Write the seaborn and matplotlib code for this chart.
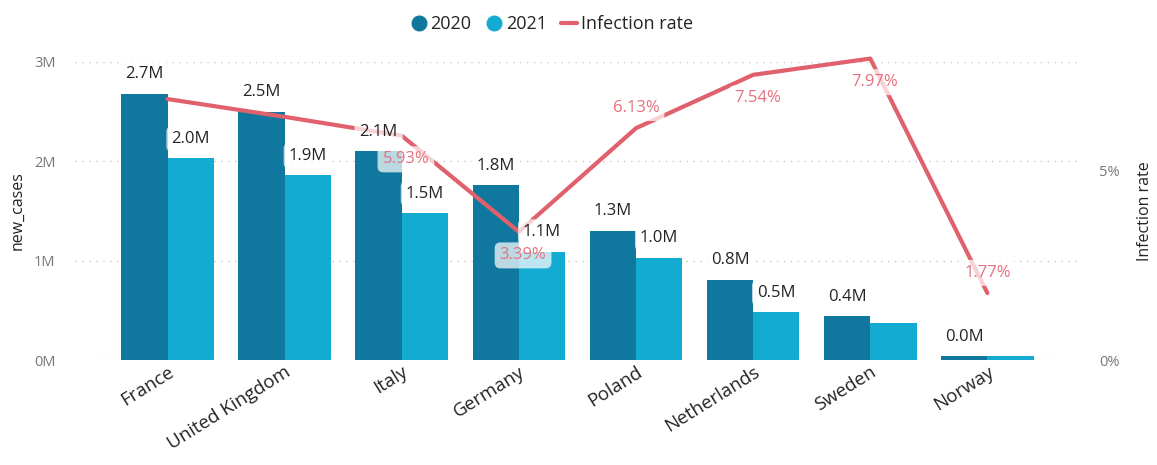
import numpy as np
import pandas as pd
import matplotlib
matplotlib.use("Agg")
import matplotlib.pyplot as plt
import seaborn as sns
from matplotlib.lines import Line2D

countries = ["France", "United Kingdom", "Italy", "Germany", "Poland",
             "Netherlands", "Sweden", "Norway"]
cases_2020 = [2.68, 2.50, 2.10, 1.76, 1.30, 0.81, 0.44, 0.04]   # millions
cases_2021 = [2.03, 1.86, 1.48, 1.09, 1.03, 0.48, 0.37, 0.04]   # millions
infection_rate = [6.90, 6.43, 5.93, 3.39, 6.13, 7.54, 7.97, 1.77]  # percent
show_2021_label = [True, True, True, True, True, True, False, False]
show_rate_label = [False, False, True, True, True, True, True, True]
rate_label_above = [True, True, False, False, True, False, False, True]
years = ["2020", "2021"]

C2020 = "#10789e"
C2021 = "#13abd2"
CLINE = "#e0606c"
CRATE_TXT = "#e8707c"
TXT = "#252423"
GRAY = "#777777"

sns.set_theme(style="white")
plt.rcParams["font.family"] = ["Open Sans", "DejaVu Sans"]

df = pd.DataFrame({
    "country": countries * 2,
    "year": [years[0]] * len(countries) + [years[1]] * len(countries),
    "new_cases": cases_2020 + cases_2021,
})

fig = plt.figure(figsize=(11.57, 4.65), dpi=100)
ax = fig.add_axes([0.0648, 0.2258, 0.8686, 0.6409])
sns.barplot(data=df, x="country", y="new_cases", hue="year",
            palette=[C2020, C2021], width=0.79, ax=ax, legend=False,
            saturation=1, edgecolor="none")
ax.set_xlim(-0.79, len(countries) - 0.21)
ax.set_ylim(0, 3)
ax.set_yticks([0, 1, 2, 3])
ax.set_yticklabels(["0M", "1M", "2M", "3M"], color=GRAY, fontsize=10.5)
ax.set_ylabel("new_cases", color=TXT, fontsize=11.5, labelpad=6)
ax.set_xlabel("")
ax.tick_params(axis="y", length=0, pad=14)
ax.tick_params(axis="x", length=0, pad=2)
ax.set_xticks(range(len(countries)))
ax.set_xticklabels(countries, rotation=32, ha="right", rotation_mode="anchor",
                   fontsize=13.5, color=TXT)
for lbl in ax.get_xticklabels():
    lbl.set_x(lbl.get_position()[0])
ax.grid(axis="y", color="#c8c8c8", linestyle=(0, (1, 4)), linewidth=1)
for s in ax.spines.values():
    s.set_visible(False)

ax2 = ax.twinx()
sns.lineplot(x=np.arange(len(countries)), y=infection_rate, ax=ax2,
             color=CLINE, linewidth=3, clip_on=False)
ax2.set_ylim(0, 7.88)
ax2.set_yticks([0, 5])
ax2.set_yticklabels(["0%", "5%"], color=GRAY, fontsize=10.5)
ax2.tick_params(axis="y", length=0, pad=14)
ax2.set_ylabel("Infection rate", color=TXT, fontsize=11.5, labelpad=12)
for s in ax2.spines.values():
    s.set_visible(False)
ax2.grid(False)

box = dict(boxstyle="round,pad=0.3,rounding_size=0.35", fc="white",
           ec="none", alpha=0.72)
bw = 0.79 / 2
for i in range(len(countries)):
    ax2.annotate(f"{cases_2020[i]:.1f}M", xy=(i - bw / 2, cases_2020[i]),
                 xycoords=ax.transData, xytext=(0, 14),
                 textcoords="offset points", ha="center", va="center",
                 fontsize=12, color=TXT, bbox=box, zorder=10,
                 annotation_clip=False)
    if show_2021_label[i]:
        ax2.annotate(f"{cases_2021[i]:.1f}M", xy=(i + bw / 2, cases_2021[i]),
                     xycoords=ax.transData, xytext=(0, 14),
                     textcoords="offset points", ha="center", va="center",
                     fontsize=12, color=TXT, bbox=box, zorder=10,
                     annotation_clip=False)
    if show_rate_label[i]:
        dy = 14.5 if rate_label_above[i] else -17
        ax2.annotate(f"{infection_rate[i]:.2f}%", xy=(i, infection_rate[i]),
                     xytext=(3 if not rate_label_above[i] else 0, dy),
                     textcoords="offset points", ha="center", va="center",
                     fontsize=12, color=CRATE_TXT, bbox=box, zorder=10,
                     annotation_clip=False)

handles = [
    Line2D([], [], marker="o", linestyle="none", markersize=10.5,
           markerfacecolor=C2020, markeredgecolor=C2020),
    Line2D([], [], marker="o", linestyle="none", markersize=10.5,
           markerfacecolor=C2021, markeredgecolor=C2021),
    Line2D([], [], color=CLINE, linewidth=3),
]
fig.legend(handles, ["2020", "2021", "Infection rate"], loc="center",
           bbox_to_anchor=(0.477, 0.948), ncol=3, frameon=False,
           fontsize=13, handlelength=0.9, handletextpad=0.2,
           columnspacing=0.8, labelcolor=TXT)

fig.savefig("out.png", dpi=100)
